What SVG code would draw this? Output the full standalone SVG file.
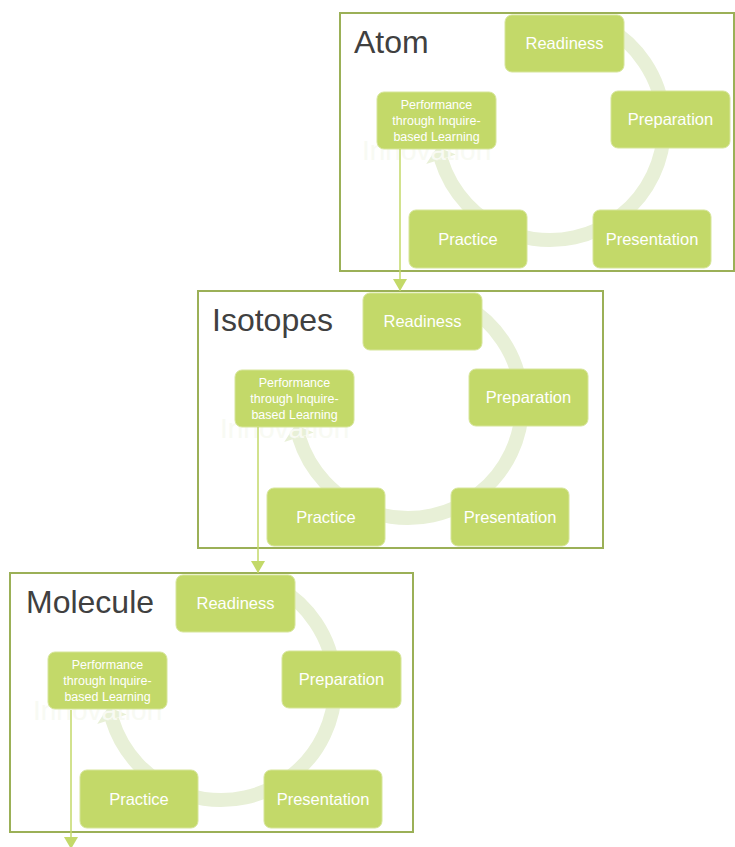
<svg xmlns="http://www.w3.org/2000/svg" width="735" height="847" viewBox="0 0 735 847">
  <defs>
    <style>
      .frame { fill: #ffffff; stroke: #9bb057; stroke-width: 2; }
      .ring { fill: none; stroke: #e8f0d7; stroke-width: 14; }
      .ringhead { fill: #e8f0d7; }
      .ghost { font-family: "Liberation Sans", Arial, sans-serif; font-size: 28px; fill: #f8faf3; }
      .box { fill: #c3d969; stroke: #d6e59a; stroke-width: 1; }
      .lbl { font-family: "Liberation Sans", Arial, sans-serif; font-size: 16.5px; fill: #ffffff; text-anchor: middle; }
      .sm { font-family: "Liberation Sans", Arial, sans-serif; font-size: 12.5px; fill: #ffffff; text-anchor: middle; }
      .title { font-family: "Liberation Sans", Arial, sans-serif; font-size: 32px; fill: #404040; }
      .conn { stroke: #c3d969; stroke-width: 1.5; fill: none; }
    </style>
    <marker id="ah" markerUnits="userSpaceOnUse" markerWidth="12" markerHeight="14" refX="12" refY="7" orient="auto" viewBox="0 0 12 14">
      <path d="M0,0 L12,7 L0,14 z" fill="#c3d969"/>
    </marker>
    <g id="cycle">
      <path class="ring" d="M607 27.3 A114 114 0 1 1 441 159.3"/>
      <polygon class="ringhead" points="426.2,164.1 455.8,154.5 437.2,146.9"/>
      <text class="ghost" x="362" y="160">Innovation</text>
    </g>
  </defs>

  <!-- Panel 1: Atom -->
  <g id="panel-atom">
    <rect class="frame" x="340" y="13" width="394" height="258"/>
    <use href="#cycle"/>
    <text id="title-atom" class="title" x="354" y="53">Atom</text>
    <g id="atom-readiness"><rect class="box" x="505" y="15" width="119" height="57" rx="7"/><text class="lbl" x="564.5" y="49">Readiness</text></g>
    <g id="atom-preparation"><rect class="box" x="611" y="91" width="119" height="57" rx="7"/><text class="lbl" x="670.5" y="125">Preparation</text></g>
    <g id="atom-presentation"><rect class="box" x="593" y="210" width="118" height="58" rx="7"/><text class="lbl" x="652" y="244.5">Presentation</text></g>
    <g id="atom-practice"><rect class="box" x="409" y="210" width="118" height="58" rx="7"/><text class="lbl" x="468" y="244.5">Practice</text></g>
    <g id="atom-performance"><rect class="box" x="377" y="92" width="119" height="57" rx="7"/><text class="sm" x="436.5" y="109">Performance</text><text class="sm" x="436.5" y="125">through Inquire-</text><text class="sm" x="436.5" y="141">based Learning</text></g>
  </g>

  <!-- Panel 2: Isotopes -->
  <g id="panel-isotopes" transform="translate(-142,278)">
    <rect class="frame" x="340" y="13" width="405" height="257"/>
    <use href="#cycle"/>
    <text id="title-isotopes" class="title" x="354" y="53">Isotopes</text>
    <g id="iso-readiness"><rect class="box" x="505" y="15" width="119" height="57" rx="7"/><text class="lbl" x="564.5" y="49">Readiness</text></g>
    <g id="iso-preparation"><rect class="box" x="611" y="91" width="119" height="57" rx="7"/><text class="lbl" x="670.5" y="125">Preparation</text></g>
    <g id="iso-presentation"><rect class="box" x="593" y="210" width="118" height="58" rx="7"/><text class="lbl" x="652" y="244.5">Presentation</text></g>
    <g id="iso-practice"><rect class="box" x="409" y="210" width="118" height="58" rx="7"/><text class="lbl" x="468" y="244.5">Practice</text></g>
    <g id="iso-performance"><rect class="box" x="377" y="92" width="119" height="57" rx="7"/><text class="sm" x="436.5" y="109">Performance</text><text class="sm" x="436.5" y="125">through Inquire-</text><text class="sm" x="436.5" y="141">based Learning</text></g>
  </g>

  <!-- Panel 3: Molecule -->
  <g id="panel-molecule" transform="translate(-329,560)">
    <rect class="frame" x="339" y="13" width="403" height="259"/>
    <use href="#cycle"/>
    <text id="title-molecule" class="title" x="355" y="53">Molecule</text>
    <g id="mol-readiness"><rect class="box" x="505" y="15" width="119" height="57" rx="7"/><text class="lbl" x="564.5" y="49">Readiness</text></g>
    <g id="mol-preparation"><rect class="box" x="611" y="91" width="119" height="57" rx="7"/><text class="lbl" x="670.5" y="125">Preparation</text></g>
    <g id="mol-presentation"><rect class="box" x="593" y="210" width="118" height="58" rx="7"/><text class="lbl" x="652" y="244.5">Presentation</text></g>
    <g id="mol-practice"><rect class="box" x="409" y="210" width="118" height="58" rx="7"/><text class="lbl" x="468" y="244.5">Practice</text></g>
    <g id="mol-performance"><rect class="box" x="377" y="92" width="119" height="57" rx="7"/><text class="sm" x="436.5" y="109">Performance</text><text class="sm" x="436.5" y="125">through Inquire-</text><text class="sm" x="436.5" y="141">based Learning</text></g>
  </g>

  <!-- Connectors -->
  <g id="connectors">
    <line class="conn" x1="400" y1="149" x2="400" y2="291" marker-end="url(#ah)"/>
    <line class="conn" x1="258" y1="427" x2="258" y2="573" marker-end="url(#ah)"/>
    <line class="conn" x1="71" y1="710" x2="71" y2="849" marker-end="url(#ah)"/>
  </g>
</svg>
